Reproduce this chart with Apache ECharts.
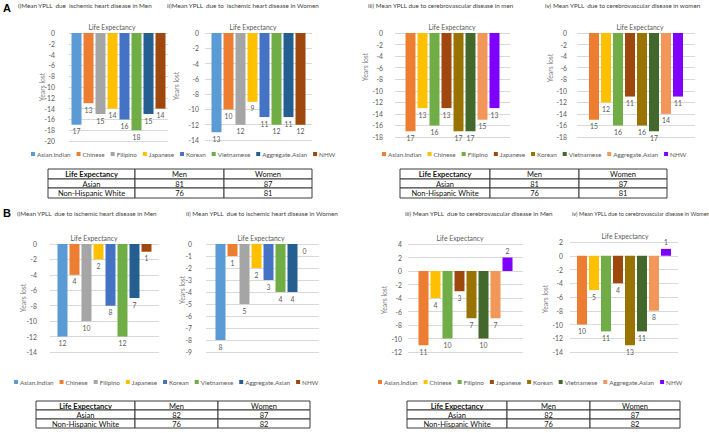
<!DOCTYPE html>
<html>
<head>
<meta charset="utf-8">
<script src="https://cdn.jsdelivr.net/npm/echarts@6/dist/echarts.min.js"></script>
<style>
html,body{margin:0;padding:0;background:#fff;}
#chart{width:709px;height:433px;}
</style>
</head>
<body>
<div id="chart"></div>
<script>
// ---------- DATA ----------
const groups = ['Asian.Indian','Chinese','Filipino','Japanese','Korean','Vietnamese','Aggregate.Asian','NHW'];
const ischemicColors = ['#5B9BD5','#ED7D31','#A5A5A5','#FFC000','#4472C4','#70AD47','#255E91','#9E480E'];
const cerebroColors  = ['#ED7D31','#FFC000','#70AD47','#9E480E','#997300','#43682B','#F1975A','#7F00FF'];

const aIschemicMen    = [-17,-13,-15,-14,-16,-18,-15,-14];
const aIschemicWomen  = [-13,-10,-12,-9,-11,-12,-11,-12];
const aCerebroMen     = [-17,-13,-16,-13,-17,-17,-15,-13];
const aCerebroWomen   = [-15,-12,-16,-11,-16,-17,-14,-11];
const bIschemicMen    = [-12,-4,-10,-2,-8,-12,-7,-1];
const bIschemicWomen  = [-8,-1,-5,-2,-3,-4,-4,0];
const bCerebroMen     = [-11,-4,-10,-3,-7,-10,-7,2];
const bCerebroWomen   = [-10,-5,-11,-4,-13,-11,-8,1];

const tableHeader = ['Life Expectancy','Men','Women'];
const tableRowLabels = ['Asian','Non-Hispanic White'];
const aTableMen = [81,76];
const aTableWomen = [87,81];
const bTableMen = [82,76];
const bTableWomen = [87,82];

const panelTitles = [
  'i)Mean YPLL  due  ischemic heart disease in Men',
  'ii)Mean YPLL  due to  ischemic heart disease in Women',
  'iii) Mean YPLL due to cerebrovascular disease in men',
  'iv) Mean YPLL  due to cerebrovascular disease in women',
  'i)Mean YPLL  due to ischemic heart disease in Men',
  'ii) Mean YPLL  due to ischemic heart disease in Women',
  'iii) Mean YPLL  due to cerebrovascular disease in Men',
  'iv) Mean YPLL due to cerebrovascular disease in Women'
];
const chartTitle = 'Life Expectancy';
const yName = 'Years lost';

// ---------- LAYOUT ----------
const FONT = 'Lato, "Liberation Sans", sans-serif';
const panels = [
  {key:'AI', values:aIschemicMen,   colors:ischemicColors, grid:{left:69, top:33, width:99, height:108}, min:-20, max:0, interval:2, margin:14, tx:18,  ty:5,   tf:6.3, le:[112,27],  yl:[42,87]},
  {key:'AI', values:aIschemicWomen, colors:ischemicColors, grid:{left:205,top:33, width:107,height:107}, min:-14, max:0, interval:2, margin:6,  tx:167, ty:5,   tf:6.3, le:[253,27],  yl:[176,86]},
  {key:'AC', values:aCerebroMen,    colors:cerebroColors,  grid:{left:395,top:33, width:115,height:104}, min:-18, max:0, interval:2, margin:12, tx:368, ty:5,   tf:6.3, le:[452,27],  yl:[365,67]},
  {key:'AC', values:aCerebroWomen,  colors:cerebroColors,  grid:{left:577,top:33, width:118,height:104}, min:-18, max:0, interval:2, margin:10, tx:545, ty:5,   tf:6.3, le:[640,27],  yl:[550,68]},
  {key:'BI', values:bIschemicMen,   colors:ischemicColors, grid:{left:50, top:244,width:109,height:108}, min:-14, max:0, interval:2, margin:13, tx:17,  ty:213, tf:6.3, le:[94,238],  yl:[23,298]},
  {key:'BI', values:bIschemicWomen, colors:ischemicColors, grid:{left:206,top:244,width:113,height:108}, min:-9,  max:0, interval:1, margin:14, tx:186, ty:213, tf:6.3, le:[261,238], yl:[182,290]},
  {key:'BC', values:bCerebroMen,    colors:cerebroColors,  grid:{left:408,top:244,width:115,height:108}, min:-12, max:4, interval:2, margin:6,  tx:405, ty:213, tf:6.3, le:[460,238], yl:[384,300]},
  {key:'BC', values:bCerebroWomen,  colors:cerebroColors,  grid:{left:570,top:242,width:108,height:110}, min:-14, max:2, interval:2, margin:7,  tx:572, ty:213, tf:5.6, le:[625,236], yl:[545,299]}
];
const legends = [
  {key:'AI', colors:ischemicColors, left:31,  top:151},
  {key:'AC', colors:cerebroColors,  left:382, top:151},
  {key:'BI', colors:ischemicColors, left:14,  top:379},
  {key:'BC', colors:cerebroColors,  left:378, top:379}
];
const tables = [
  {men:aTableMen, women:aTableWomen, cols:[48,135,224,312], rows:[169,179,188,198]},
  {men:aTableMen, women:aTableWomen, cols:[400,490,579,667], rows:[169,179,188,198]},
  {men:bTableMen, women:bTableWomen, cols:[36,135,218,310], rows:[401,410,419,428]},
  {men:bTableMen, women:bTableWomen, cols:[407,507,590,680], rows:[401,410,419,428]}
];

// ---------- BUILD ----------
const grid = [], xAxis = [], yAxis = [], series = [], graphic = [];
panels.forEach((p, i) => {
  grid.push(p.grid);
  xAxis.push({type:'category', gridIndex:i, data:[''], show:false});
  yAxis.push({
    type:'value', gridIndex:i, min:p.min, max:p.max, interval:p.interval,
    axisLine:{show:false}, axisTick:{show:false},
    axisLabel:{fontSize:6.8, color:'#595959', fontFamily:FONT, margin:p.margin},
    splitLine:{lineStyle:{color:'#D9D9D9', width:1}}
  });
  groups.forEach((g, j) => {
    const v = p.values[j];
    series.push({
      type:'bar', name:p.key + '|' + g, xAxisIndex:i, yAxisIndex:i,
      data:[v], barWidth:10, barGap:'20%',
      itemStyle:{color:p.colors[j]},
      label:{show:true, position: v > 0 ? 'top' : 'bottom', distance:3,
             fontSize:6.8, color:'#595959', fontFamily:FONT,
             formatter: d => String(Math.abs(d.value))},
      animation:false
    });
  });
  graphic.push({type:'text', x:p.tx, y:p.ty, style:{text:panelTitles[i], fontSize:p.tf, fontFamily:FONT, fill:'#404040', align:'left', verticalAlign:'middle'}});
  graphic.push({type:'text', x:p.le[0], y:p.le[1], style:{text:chartTitle, fontSize:6.8, fontFamily:FONT, fill:'#595959', align:'center', verticalAlign:'middle'}});
  graphic.push({type:'text', x:p.yl[0], y:p.yl[1], rotation:Math.PI/2, style:{text:yName, fontSize:6.8, fontFamily:FONT, fill:'#7F7F7F', align:'center', verticalAlign:'middle'}});
});

graphic.push({type:'text', x:3, y:8, style:{text:'A', fontSize:11, fontWeight:'bold', fontFamily:'"Liberation Sans", sans-serif', fill:'#000', verticalAlign:'middle'}});
graphic.push({type:'text', x:3, y:213, style:{text:'B', fontSize:11, fontWeight:'bold', fontFamily:'"Liberation Sans", sans-serif', fill:'#000', verticalAlign:'middle'}});

tables.forEach(t => {
  const rowsText = [tableHeader, [tableRowLabels[0], String(t.men[0]), String(t.women[0])], [tableRowLabels[1], String(t.men[1]), String(t.women[1])]];
  for (let r = 0; r < 3; r++) {
    for (let c = 0; c < 3; c++) {
      const x0 = t.cols[c], x1 = t.cols[c+1], y0 = t.rows[r], y1 = t.rows[r+1];
      graphic.push({type:'rect', shape:{x:x0, y:y0, width:x1-x0, height:y1-y0}, style:{fill:'#fff', stroke:'#3a3a3a', lineWidth:1}, z:1});
      graphic.push({type:'text', x:(x0+x1)/2, y:(y0+y1)/2+0.5, z:2, style:{text:rowsText[r][c], fontSize:7.5, fontFamily:FONT, fontWeight:(r===0 && c===0)?'bold':'normal', fill:'#111', align:'center', verticalAlign:'middle'}});
    }
  }
});

const legend = legends.map(l => ({
  data: groups.map(g => l.key + '|' + g),
  left:l.left, top:l.top, orient:'horizontal', width:340,
  icon:'rect', itemWidth:4, itemHeight:4, itemGap:6,
  padding:0,
  textStyle:{fontSize:6.3, color:'#595959', fontFamily:FONT, padding:[0,0,0,-3]},
  formatter: name => name.split('|')[1],
  selectedMode:false
}));

const chart = echarts.init(document.getElementById('chart'), null, {renderer:'svg'});
chart.setOption({
  animation:false,
  backgroundColor:'#fff',
  grid, xAxis, yAxis, series, legend, graphic
});
</script>
</body>
</html>
